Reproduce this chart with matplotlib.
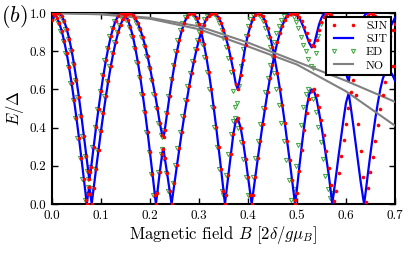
import numpy as np
import matplotlib
matplotlib.use("Agg")
import matplotlib.pyplot as plt

# lower / upper SJT branches, (B, E/Delta)
sjt_lo = [
    (0.000, 0.963), (0.005, 0.987), (0.007, 0.990), (0.010, 0.976), (0.015, 0.946),
    (0.020, 0.904), (0.025, 0.851), (0.030, 0.788), (0.035, 0.715), (0.040, 0.633),
    (0.045, 0.544), (0.050, 0.448), (0.055, 0.347), (0.060, 0.241), (0.065, 0.132),
    (0.070, 0.022), (0.071, 0.000), (0.0735, 0.050), (0.076, 0.090), (0.0785, 0.050),
    (0.081, 0.000), (0.085, 0.083), (0.090, 0.185), (0.095, 0.285), (0.100, 0.383),
    (0.105, 0.476), (0.110, 0.564), (0.115, 0.646), (0.120, 0.722), (0.125, 0.789),
    (0.130, 0.848), (0.135, 0.898), (0.140, 0.939), (0.145, 0.969), (0.150, 0.985),
    (0.155, 0.963), (0.160, 0.926), (0.165, 0.877), (0.170, 0.817), (0.175, 0.746),
    (0.180, 0.666), (0.185, 0.576), (0.190, 0.480), (0.195, 0.378), (0.200, 0.270),
    (0.205, 0.159), (0.210, 0.045), (0.212, 0.000), (0.215, 0.060), (0.220, 0.168),
    (0.225, 0.264), (0.2275, 0.290), (0.230, 0.243), (0.235, 0.160), (0.240, 0.070),
    (0.244, 0.000), (0.250, 0.111), (0.255, 0.202), (0.260, 0.291), (0.265, 0.378),
    (0.270, 0.462), (0.275, 0.542), (0.280, 0.617), (0.285, 0.687), (0.290, 0.751),
    (0.295, 0.809), (0.300, 0.860), (0.3045, 0.900), (0.310, 0.838), (0.315, 0.769),
    (0.320, 0.691), (0.325, 0.603), (0.330, 0.506), (0.335, 0.404), (0.340, 0.296),
    (0.345, 0.184), (0.350, 0.070), (0.353, 0.000), (0.355, 0.045), (0.360, 0.152),
    (0.365, 0.263), (0.370, 0.365), (0.375, 0.435), (0.379, 0.450), (0.385, 0.400),
    (0.390, 0.325), (0.395, 0.238), (0.400, 0.143), (0.405, 0.048), (0.4075, 0.000),
    (0.410, 0.048), (0.415, 0.144), (0.420, 0.239), (0.425, 0.331), (0.430, 0.420),
    (0.435, 0.505), (0.440, 0.586), (0.445, 0.661), (0.450, 0.730), (0.4535, 0.776),
    (0.460, 0.684), (0.465, 0.604), (0.470, 0.518), (0.475, 0.426), (0.480, 0.329),
    (0.485, 0.228), (0.490, 0.125), (0.495, 0.021), (0.496, 0.000), (0.500, 0.081),
    (0.505, 0.199), (0.510, 0.311), (0.515, 0.415), (0.520, 0.508), (0.525, 0.575),
    (0.530, 0.600), (0.535, 0.590), (0.540, 0.548), (0.545, 0.481), (0.550, 0.405),
    (0.555, 0.324), (0.560, 0.238), (0.565, 0.149), (0.570, 0.045), (0.572, 0.000),
    (0.575, 0.060), (0.580, 0.155), (0.585, 0.255), (0.590, 0.350), (0.595, 0.445),
    (0.600, 0.530), (0.6055, 0.580), (0.610, 0.502), (0.615, 0.410), (0.620, 0.312),
    (0.625, 0.211), (0.630, 0.115), (0.635, 0.030), (0.637, 0.000), (0.640, 0.060),
    (0.645, 0.165), (0.650, 0.265), (0.655, 0.360), (0.660, 0.450), (0.665, 0.530),
    (0.670, 0.600), (0.675, 0.655), (0.680, 0.690), (0.685, 0.700), (0.690, 0.695),
    (0.695, 0.675), (0.700, 0.645),
]

sjt_hi = [
    (0.000, 1.000), (0.005, 0.994), (0.010, 0.999), (0.015, 0.998), (0.020, 0.984),
    (0.025, 0.956), (0.030, 0.917), (0.035, 0.866), (0.040, 0.804), (0.045, 0.731),
    (0.050, 0.648), (0.055, 0.558), (0.060, 0.460), (0.065, 0.356), (0.070, 0.250),
    (0.0735, 0.175), (0.076, 0.130), (0.0785, 0.168), (0.080, 0.195), (0.085, 0.301),
    (0.090, 0.403), (0.095, 0.500), (0.100, 0.591), (0.105, 0.676), (0.110, 0.752),
    (0.115, 0.819), (0.120, 0.877), (0.125, 0.924), (0.130, 0.960), (0.135, 0.985),
    (0.140, 0.998), (0.143, 1.000), (0.147, 0.996), (0.150, 0.990), (0.153, 0.996),
    (0.157, 1.000), (0.160, 0.999), (0.165, 0.990), (0.170, 0.973), (0.175, 0.948),
    (0.180, 0.915), (0.185, 0.875), (0.190, 0.828), (0.195, 0.774), (0.200, 0.713),
    (0.205, 0.647), (0.210, 0.578), (0.215, 0.505), (0.220, 0.424), (0.225, 0.360),
    (0.228, 0.352), (0.230, 0.385), (0.235, 0.478), (0.240, 0.567), (0.245, 0.652),
    (0.250, 0.729), (0.255, 0.799), (0.260, 0.859), (0.265, 0.909), (0.270, 0.948),
    (0.275, 0.977), (0.280, 0.994), (0.285, 1.000), (0.290, 0.993), (0.295, 0.974),
    (0.300, 0.940), (0.3045, 0.900), (0.310, 0.939), (0.315, 0.967), (0.320, 0.986),
    (0.325, 0.997), (0.329, 1.000), (0.335, 0.993), (0.340, 0.976), (0.345, 0.949),
    (0.350, 0.913), (0.355, 0.868), (0.360, 0.823), (0.365, 0.763), (0.370, 0.700),
    (0.375, 0.630), (0.379, 0.600), (0.385, 0.675), (0.390, 0.755), (0.395, 0.830),
    (0.400, 0.887), (0.405, 0.932), (0.410, 0.968), (0.415, 0.990), (0.421, 1.000),
    (0.425, 0.996), (0.430, 0.982), (0.435, 0.957), (0.440, 0.922), (0.445, 0.876),
    (0.450, 0.821), (0.4535, 0.776), (0.460, 0.848), (0.465, 0.895), (0.470, 0.934),
    (0.475, 0.964), (0.480, 0.985), (0.485, 0.997), (0.489, 1.000), (0.495, 0.994),
    (0.500, 0.988), (0.505, 0.972), (0.510, 0.946), (0.515, 0.914), (0.520, 0.878),
    (0.525, 0.843), (0.530, 0.820), (0.535, 0.838), (0.540, 0.890), (0.545, 0.940),
    (0.550, 0.975), (0.555, 0.995), (0.561, 1.000), (0.565, 0.996), (0.570, 0.982),
    (0.575, 0.956), (0.580, 0.920), (0.585, 0.873), (0.590, 0.816), (0.595, 0.752),
    (0.600, 0.683), (0.6055, 0.640), (0.610, 0.719), (0.615, 0.788), (0.620, 0.851),
    (0.625, 0.903), (0.630, 0.945), (0.635, 0.975), (0.640, 0.994), (0.645, 1.000),
    (0.650, 0.997), (0.655, 0.990), (0.660, 0.975), (0.665, 0.950), (0.670, 0.920),
    (0.675, 0.890), (0.680, 0.880), (0.685, 0.900), (0.690, 0.925), (0.695, 0.950),
    (0.700, 0.975),
]

# SJN sits on SJT below B = 0.5 and lags slightly behind above it
sjn_lo_tail = [
    (0.500, 0.060), (0.505, 0.175), (0.510, 0.285), (0.515, 0.385), (0.520, 0.475),
    (0.525, 0.550), (0.530, 0.590), (0.535, 0.600), (0.540, 0.570), (0.545, 0.510),
    (0.550, 0.440), (0.555, 0.360), (0.560, 0.275), (0.565, 0.190), (0.570, 0.100),
    (0.575, 0.015), (0.580, 0.070), (0.585, 0.160), (0.590, 0.250), (0.595, 0.335),
    (0.600, 0.420), (0.605, 0.505), (0.610, 0.585), (0.615, 0.650), (0.620, 0.570),
    (0.625, 0.420), (0.630, 0.280), (0.635, 0.140), (0.640, 0.010), (0.645, 0.085),
    (0.650, 0.165), (0.655, 0.245), (0.660, 0.330), (0.665, 0.415), (0.670, 0.495),
    (0.675, 0.570), (0.680, 0.640), (0.685, 0.690), (0.690, 0.715), (0.695, 0.725),
    (0.700, 0.720),
]
sjn_hi_tail = [
    (0.500, 0.993), (0.505, 0.980), (0.510, 0.958), (0.515, 0.928), (0.520, 0.893),
    (0.525, 0.858), (0.530, 0.832), (0.535, 0.825), (0.540, 0.860), (0.545, 0.910),
    (0.550, 0.952), (0.555, 0.980), (0.560, 0.995), (0.565, 1.000), (0.570, 0.992),
    (0.575, 0.972), (0.580, 0.942), (0.585, 0.903), (0.590, 0.855), (0.595, 0.800),
    (0.600, 0.742), (0.605, 0.705), (0.610, 0.695), (0.615, 0.730), (0.620, 0.795),
    (0.625, 0.852), (0.630, 0.900), (0.635, 0.940), (0.640, 0.970), (0.645, 0.990),
    (0.650, 1.000), (0.655, 0.996), (0.660, 0.982), (0.665, 0.960), (0.670, 0.932),
    (0.675, 0.900), (0.680, 0.870), (0.685, 0.860), (0.690, 0.880), (0.695, 0.910),
    (0.700, 0.940),
]
sjn_lo = [p for p in sjt_lo if p[0] < 0.498] + sjn_lo_tail
sjn_hi = [p for p in sjt_hi if p[0] < 0.498] + sjn_hi_tail

# ED (exact diagonalisation), a little to the left of SJT, stops near B = 0.58
ed_lo = [
    (0.000, 0.970), (0.002, 0.987), (0.007, 0.976), (0.012, 0.946), (0.017, 0.904),
    (0.022, 0.851), (0.027, 0.788), (0.032, 0.715), (0.037, 0.633), (0.042, 0.544),
    (0.047, 0.448), (0.052, 0.347), (0.057, 0.241), (0.062, 0.132), (0.067, 0.022),
    (0.0705, 0.050), (0.073, 0.090), (0.0755, 0.050), (0.082, 0.083), (0.087, 0.185),
    (0.092, 0.285), (0.097, 0.383), (0.102, 0.476), (0.107, 0.564), (0.112, 0.646),
    (0.117, 0.722), (0.122, 0.789), (0.127, 0.848), (0.132, 0.898), (0.137, 0.939),
    (0.142, 0.969), (0.147, 0.985), (0.152, 0.963), (0.157, 0.926), (0.162, 0.877),
    (0.167, 0.817), (0.172, 0.746), (0.177, 0.666), (0.182, 0.576), (0.187, 0.480),
    (0.192, 0.378), (0.197, 0.270), (0.202, 0.159), (0.207, 0.045), (0.212, 0.060),
    (0.217, 0.168), (0.222, 0.264), (0.2245, 0.290), (0.227, 0.243), (0.232, 0.160),
    (0.237, 0.070), (0.246, 0.111), (0.251, 0.202), (0.256, 0.291), (0.261, 0.378),
    (0.266, 0.462), (0.271, 0.542), (0.276, 0.617), (0.281, 0.687), (0.286, 0.751),
    (0.291, 0.809), (0.296, 0.860), (0.3005, 0.900), (0.306, 0.838), (0.311, 0.769),
    (0.316, 0.691), (0.321, 0.603), (0.326, 0.506), (0.331, 0.404), (0.336, 0.296),
    (0.341, 0.184), (0.346, 0.070), (0.350, 0.045), (0.355, 0.152), (0.360, 0.263),
    (0.365, 0.365), (0.370, 0.435), (0.374, 0.450), (0.380, 0.400), (0.385, 0.325),
    (0.390, 0.238), (0.395, 0.143), (0.400, 0.048), (0.405, 0.048), (0.410, 0.144),
    (0.415, 0.239), (0.420, 0.331), (0.425, 0.420), (0.430, 0.505), (0.435, 0.586),
    (0.440, 0.661), (0.445, 0.730), (0.4485, 0.776), (0.453, 0.684), (0.458, 0.604),
    (0.463, 0.518), (0.468, 0.426), (0.473, 0.329), (0.478, 0.228), (0.483, 0.125),
    (0.488, 0.021), (0.493, 0.081), (0.498, 0.199), (0.503, 0.311), (0.508, 0.415),
    (0.513, 0.508), (0.518, 0.575), (0.523, 0.600), (0.528, 0.590), (0.533, 0.548),
    (0.538, 0.481), (0.543, 0.405), (0.548, 0.324), (0.553, 0.238), (0.558, 0.149),
    (0.563, 0.080), (0.568, 0.030), (0.573, 0.060),
]
ed_hi = [
    (0.002, 0.994), (0.007, 0.999), (0.012, 0.998), (0.017, 0.984), (0.022, 0.956),
    (0.027, 0.917), (0.032, 0.866), (0.037, 0.804), (0.042, 0.731), (0.047, 0.648),
    (0.052, 0.558), (0.057, 0.460), (0.062, 0.356), (0.067, 0.250), (0.0705, 0.175),
    (0.073, 0.130), (0.0755, 0.168), (0.077, 0.195), (0.082, 0.301), (0.087, 0.403),
    (0.092, 0.500), (0.097, 0.591), (0.102, 0.676), (0.107, 0.752), (0.112, 0.819),
    (0.117, 0.877), (0.122, 0.924), (0.127, 0.960), (0.132, 0.985), (0.137, 0.998),
    (0.144, 0.996), (0.150, 0.996), (0.157, 0.999), (0.162, 0.990), (0.167, 0.973),
    (0.172, 0.948), (0.177, 0.915), (0.182, 0.875), (0.187, 0.828), (0.192, 0.774),
    (0.197, 0.713), (0.202, 0.647), (0.207, 0.578), (0.212, 0.505), (0.217, 0.424),
    (0.222, 0.362), (0.225, 0.352), (0.227, 0.385), (0.232, 0.478), (0.237, 0.567),
    (0.242, 0.652), (0.246, 0.729), (0.251, 0.799), (0.256, 0.859), (0.261, 0.909),
    (0.266, 0.948), (0.271, 0.977), (0.276, 0.994), (0.281, 1.000), (0.286, 0.993),
    (0.291, 0.974), (0.296, 0.940), (0.306, 0.939), (0.311, 0.967), (0.316, 0.986),
    (0.321, 0.997), (0.325, 1.000), (0.331, 0.993), (0.336, 0.976), (0.341, 0.949),
    (0.346, 0.913), (0.350, 0.868), (0.355, 0.823), (0.360, 0.763), (0.365, 0.690),
    (0.370, 0.590), (0.374, 0.510), (0.378, 0.530), (0.382, 0.620), (0.386, 0.720),
    (0.390, 0.810), (0.395, 0.880), (0.400, 0.932), (0.405, 0.968), (0.410, 0.990),
    (0.416, 1.000), (0.420, 0.996), (0.425, 0.982), (0.430, 0.957), (0.435, 0.922),
    (0.440, 0.876), (0.445, 0.821), (0.453, 0.848), (0.458, 0.895), (0.463, 0.934),
    (0.468, 0.964), (0.473, 0.985), (0.478, 0.997), (0.482, 1.000), (0.488, 0.994),
    (0.493, 0.980), (0.498, 0.955), (0.503, 0.920), (0.508, 0.875), (0.513, 0.830),
    (0.518, 0.800), (0.523, 0.760), (0.528, 0.720), (0.533, 0.710), (0.538, 0.790),
    (0.543, 0.880), (0.548, 0.945), (0.554, 0.990), (0.558, 0.998), (0.563, 0.985),
    (0.568, 0.960), (0.573, 0.925),
]

# NO curves
no_B = [0.0, 0.1, 0.2, 0.3, 0.4, 0.5, 0.6, 0.65, 0.7]
no_E1 = [1.0, 0.995, 0.975, 0.93, 0.845, 0.745, 0.645, 0.59, 0.535]
no_E2 = [1.0, 0.993, 0.97, 0.915, 0.825, 0.73, 0.59, 0.50, 0.41]

plt.rcParams["font.family"] = ["cmr10", "DejaVu Serif"]
plt.rcParams["mathtext.fontset"] = "cm"
plt.rcParams["axes.formatter.use_mathtext"] = True

fig = plt.figure(figsize=(4.15, 2.56), dpi=100)
ax = fig.add_axes([0.1253, 0.2031, 0.8265, 0.7461])

blue = "#0000ff"
red = "#ff0000"
green = "#3aa63a"
grey = "#808080"

for pts in (ed_lo, ed_hi):
    b, e = np.array(pts).T
    ax.plot(b, e, ls="none", marker="v", ms=3.0, mfc="none", mec=green, mew=0.7, zorder=2)
for pts in (sjt_lo, sjt_hi):
    b, e = np.array(pts).T
    ax.plot(b, e, color=blue, lw=1.6, zorder=3)
ax.plot(no_B, no_E1, color=grey, lw=1.5, zorder=4)
ax.plot(no_B, no_E2, color=grey, lw=1.5, zorder=4)
for pts in (sjn_lo, sjn_hi):
    b, e = np.array(pts).T
    ax.plot(b, e, ls="none", marker="o", ms=2.6, mfc=red, mec="none", zorder=5)

h_sjn, = ax.plot([], [], ls="none", marker="o", ms=2.6, mfc=red, mec="none")
h_sjt, = ax.plot([], [], color=blue, lw=1.6)
h_ed, = ax.plot([], [], ls="none", marker="v", ms=3.0, mfc="none", mec=green, mew=0.7)
h_no, = ax.plot([], [], color=grey, lw=1.5)

ax.set_xlim(0, 0.7)
ax.set_ylim(0, 1.0)
ax.set_xticks(np.arange(0, 0.71, 0.1))
ax.set_yticks(np.arange(0, 1.01, 0.2))
ax.xaxis.set_major_formatter(plt.FormatStrFormatter("%.1f"))
ax.yaxis.set_major_formatter(plt.FormatStrFormatter("%.1f"))
ax.tick_params(direction="in", top=True, right=True, length=4, width=1, labelsize=9.5, pad=4)
for s in ax.spines.values():
    s.set_linewidth(1.5)

ax.set_xlabel(r"Magnetic field $B$ $[2\delta/g\mu_B]$", fontsize=12, labelpad=2)
ax.set_ylabel(r"$E/\Delta$", fontsize=12, labelpad=3)

leg = ax.legend([h_sjn, h_sjt, h_ed, h_no], ["SJN", "SJT", "ED", "NO"],
                loc="upper right", fontsize=8.5, numpoints=2, handlelength=2.2,
                borderpad=0.35, labelspacing=0.25, borderaxespad=0.3, fancybox=False,
                framealpha=1)
leg.get_frame().set_edgecolor("black")
leg.get_frame().set_linewidth(1.5)
leg.set_zorder(10)

fig.text(0.003, 0.99, r"$(b)$", fontsize=16, va="top", ha="left")

fig.savefig("out.png", dpi=100)
